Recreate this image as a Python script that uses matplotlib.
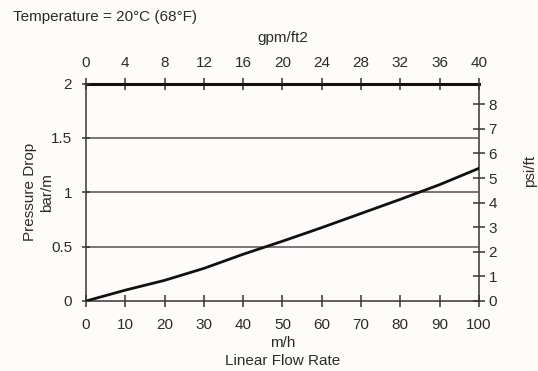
import matplotlib
matplotlib.use("Agg")
import matplotlib.pyplot as plt

# ── data ──────────────────────────────────────────────────────────────────
flow_mh = [0, 10, 20, 30, 40, 50, 60, 70, 80, 90, 100]
drop_bar_m = [0, 0.10, 0.19, 0.30, 0.43, 0.55, 0.675, 0.805, 0.935, 1.07, 1.22]

x_ticks = list(range(0, 101, 10))
y_ticks = [0, 0.5, 1, 1.5, 2]
y_ticklabels = ["0", "0.5", "1", "1.5", "2"]
grid_levels = [0.5, 1, 1.5]
gpm_ticks = list(range(0, 41, 4))
psi_ticks = list(range(0, 9))

MH_TO_GPM = 0.4       # axis scale used on the chart (100 m/h <-> 40 gpm/ft2)
BAR_TO_PSI = 4.42     # bar/m -> psi/ft

plt.rcParams["font.family"] = ["Liberation Sans", "DejaVu Sans"]
plt.rcParams["font.size"] = 11

ink = "#3a3434"
txt = "#2e2a2a"

fig = plt.figure(figsize=(5.38, 3.71), dpi=100)
fig.patch.set_facecolor("#fdfcfb")
ax = fig.add_axes([0.160, 0.1887, 0.730, 0.586])
ax.set_facecolor("#fdfcfb")

for lvl in grid_levels:
    ax.axhline(lvl, color="#5b5050", linewidth=1.1, zorder=1)
ax.plot(flow_mh, drop_bar_m, color="#111111", linewidth=2.0, zorder=3)

ax.set_xlim(0, 100)
ax.set_ylim(0, 2)
ax.set_xticks(x_ticks)
ax.set_yticks(y_ticks)
ax.set_yticklabels(y_ticklabels)
ax.tick_params(direction="inout", length=8, width=1.1, colors=ink,
               labelcolor=txt)
ax.tick_params(axis="x", pad=8)
ax.tick_params(axis="y", length=6, pad=7)
for side in ("left", "bottom"):
    ax.spines[side].set_color(ink)
    ax.spines[side].set_linewidth(1.1)
ax.spines["top"].set_visible(False)
ax.spines["right"].set_visible(False)

ax.set_xlabel("m/h\nLinear Flow Rate", color=txt, linespacing=1.35, labelpad=3)
ax.set_ylabel("Pressure Drop\nbar/m", color=txt, linespacing=1.3, labelpad=-2)

# top axis: gpm/ft2
top = ax.secondary_xaxis("top", functions=(lambda x: x * MH_TO_GPM,
                                           lambda x: x / MH_TO_GPM))
top.set_xticks(gpm_ticks)
top.tick_params(direction="inout", length=8, width=1.1, colors=ink,
                labelcolor=txt, pad=6)
top.spines["top"].set_color("#111111")
top.spines["top"].set_linewidth(2.2)
top.set_xlabel("gpm/ft2", color=txt, labelpad=10)

# right axis: psi/ft
right = ax.secondary_yaxis("right", functions=(lambda y: y * BAR_TO_PSI,
                                               lambda y: y / BAR_TO_PSI))
right.set_yticks(psi_ticks)
right.tick_params(direction="inout", length=8, width=1.1, colors=ink,
                  labelcolor=txt, pad=3)
right.spines["right"].set_color(ink)
right.spines["right"].set_linewidth(1.1)
right.set_ylabel("psi/ft", color=txt)
right.yaxis.set_label_coords(1.112, 0.60, transform=ax.transAxes)

fig.text(0.024, 0.953, "Temperature = 20°C (68°F)", color=txt,
         ha="left", va="center")

fig.savefig("out.png", dpi=100, facecolor=fig.get_facecolor())
